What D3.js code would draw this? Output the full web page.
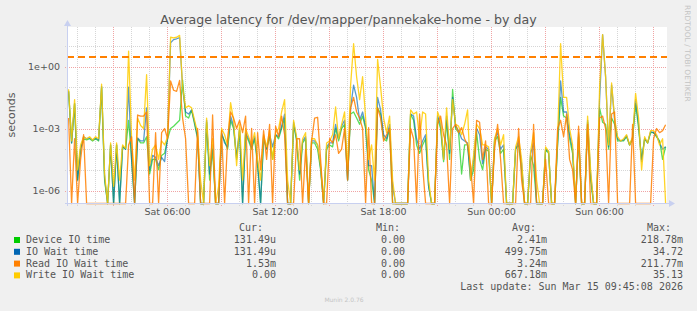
<!DOCTYPE html>
<html>
<head>
<meta charset="utf-8">
<script src="https://cdn.jsdelivr.net/npm/d3@7"></script>
<style>
  body { margin: 0; background: #f0f0f0; }
  svg { display: block; }
  text { font-family: 'DejaVu Sans', sans-serif; fill: #555; }
  .mono { font-family: 'DejaVu Sans Mono', monospace; font-size: 10px; }
</style>
</head>
<body>
<div id="app"></div>
<script>
// samples every 10 minutes, seconds
let deviceVals = [
  0.063, 2e-4, 0.016, 3.2e-6, 1e-4, 3.2e-4, 2.8e-4, 3.2e-4, 2.5e-4, 3.2e-4,
  2.5e-4, 0.1, 3.2e-6, 0, 1.6e-4, 0, 1.6e-4, 0, 1.3e-4, 1e-4,
  2.5e-3, 3.2e-5, 0, 3.2e-4, 2e-4, 2e-4, 4e-4, 6.3e-6, 3.2e-5, 3.2e-5,
  1e-5, 5e-5, 6.3e-5, 3.2e-4, 1e-3, 1.3e-3, 1.8e-3, 2.5e-3, 0.21878, 4e-3,
  3.2e-3, 7.9e-3, 1.6e-3, 3.2e-4, 0, 0, 2e-3, 3.2e-6, 1e-4, 0,
  0, 5e-4, 2.5e-4, 1e-4, 2.5e-3, 1e-3, 3.2e-5, 7.9e-4, 0, 5e-4,
  2.5e-4, 1e-4, 3.2e-4, 1.6e-5, 0, 3.2e-4, 1e-4, 4e-4, 3.2e-5, 5e-4,
  3.2e-4, 1e-3, 3.2e-3, 0, 0, 1.6e-3, 2.5e-4, 3.2e-6, 2e-4, 3.2e-4,
  0, 2e-4, 2e-4, 1e-4, 1e-5, 0, 1e-4, 1.6e-4, 1.3e-4, 1e-3,
  2.5e-4, 1e-3, 1.6e-3, 3.2e-6, 5e-3, 6.3e-3, 3.2e-3, 1.6e-3, 4e-3, 1e-3,
  1e-5, 3.2e-6, 0, 0.01, 5e-3, 3.2e-4, 2.5e-4, 1e-3, 0, 0,
  0, 0, 0, 0, 5e-3, 2.5e-3, 1.6e-4, 6.3e-5, 1.6e-4, 3.2e-4,
  1.6e-6, 0, 0, 3.2e-3, 1e-3, 2.5e-5, 2.5e-3, 3.2e-5, 0.079, 1e-3,
  6.3e-4, 6.3e-6, 1.6e-4, 1.6e-4, 3.2e-6, 1e-5, 6.3e-4, 3.2e-5, 1e-5, 1e-4,
  7.9e-5, 0, 2.5e-4, 4e-4, 6.3e-5, 1e-4, 0, 0, 0, 1e-4,
  1.6e-4, 1e-5, 0, 0, 5e-5, 1.6e-5, 0, 0, 0, 1e-4,
  6.3e-5, 0, 0, 1.6e-4, 0.032, 4e-3, 3.2e-3, 3.2e-4, 6.3e-5, 0,
  4e-4, 0, 0, 2e-3, 3.2e-6, 0, 0, 0.01, 2e-3, 1.6e-3,
  1e-4, 3.2e-3, 1.6e-3, 2.5e-4, 2.5e-4, 2.5e-4, 4e-4, 1.6e-4, 3.2e-4, 0.016,
  1e-3, 3.2e-5, 3.2e-4, 2e-4, 6.3e-4, 6.3e-4, 4e-4, 2.5e-4, 3.2e-5, 1.3149e-4
];
let ioWaitVals = [
  0.063, 2e-4, 0.016, 3.2e-6, 1e-4, 4e-4, 3.2e-4, 3.5e-4, 2.8e-4, 3.5e-4,
  2.8e-4, 0.11, 4e-6, 0, 1.6e-4, 0, 1.6e-4, 0, 1.4e-4, 1e-4,
  0.1, 3.2e-5, 0, 3.5e-4, 2.5e-4, 2.5e-4, 0.01, 1e-5, 5e-5, 4e-5,
  1.6e-5, 4e-5, 2.5e-5, 4e-4, 14, 20, 22, 25, 0.1, 6.3e-3,
  5e-3, 7.9e-3, 2e-3, 4e-4, 0, 0, 2.5e-3, 6.3e-6, 1.6e-4, 0,
  0, 6.3e-4, 2e-4, 1.3e-4, 4e-3, 1.3e-3, 4e-5, 1e-3, 0, 6.3e-4,
  3.2e-4, 1.3e-4, 4e-4, 2.5e-5, 0, 4e-4, 1e-4, 5e-4, 1.3e-4, 5e-4,
  4e-4, 1.3e-3, 5e-3, 0, 0, 2e-3, 3.2e-4, 6.3e-6, 2.5e-4, 4e-4,
  0, 2.5e-4, 2.5e-4, 1.6e-4, 1.3e-5, 0, 1.3e-4, 2e-4, 2e-4, 1.6e-3,
  3.2e-4, 1.3e-3, 2.5e-3, 3.2e-6, 0.01, 0.126, 0.032, 2.5e-3, 6.3e-3, 1.3e-3,
  1.6e-5, 1.6e-5, 0, 0.032, 7.9e-3, 5e-4, 3.2e-4, 1.6e-3, 1.6e-6, 0,
  0, 0, 0, 0, 5e-3, 4e-3, 3.2e-4, 1e-4, 2.5e-4, 5e-4,
  1.6e-6, 0, 0, 4e-3, 1.6e-3, 3.2e-5, 4e-3, 6.3e-5, 0.032, 1.3e-3,
  7.9e-4, 3.2e-4, 2.5e-4, 2e-4, 3.2e-6, 3.2e-5, 1e-3, 5e-4, 2e-5, 1.3e-4,
  1e-4, 0, 3.2e-4, 6.3e-4, 1e-4, 1.6e-4, 0, 0, 0, 1e-4,
  2.5e-4, 2e-5, 0, 0, 6.3e-5, 2e-4, 0, 0, 0, 1e-4,
  7.9e-5, 0, 0, 2e-4, 0.2, 6.3e-3, 6.3e-3, 5e-4, 1e-4, 0,
  5e-4, 0, 0, 2.5e-3, 6.3e-6, 0, 0, 0.025, 34.72, 0.32,
  1.3e-4, 0.126, 2.5e-3, 3.2e-4, 2.5e-4, 2.8e-4, 4.5e-4, 1.6e-4, 3.5e-4, 0.025,
  1.6e-3, 2.5e-5, 3.2e-4, 2e-4, 7.1e-4, 6.3e-4, 4.5e-4, 2e-4, 1e-4, 1.3149e-4
];
let readVals = [
  3.2e-3, 0, 3.2e-4, 0, 3.2e-5, 5e-4, 0, 0, 0, 0,
  0, 0, 0, 0, 0, 0, 0, 0, 0, 0,
  1.6e-4, 4e-4, 0, 4.5e-3, 4e-3, 4e-3, 6.3e-3, 0, 0, 6.3e-4,
  0, 6.3e-4, 1e-3, 3.2e-4, 0.2, 0.071, 0.063, 0.21177, 3.2e-3, 3.2e-4,
  0, 0, 0, 1e-3, 0, 0, 0, 0, 4.5e-3, 0,
  0, 7.9e-4, 0, 3.2e-4, 6.3e-3, 3.2e-3, 1e-3, 2.5e-3, 6.3e-4, 4e-3,
  0, 1e-3, 0, 6.3e-4, 1e-5, 7.9e-4, 3.2e-5, 1.6e-3, 0, 1.3e-3,
  4e-4, 4e-3, 5e-4, 0, 0, 0, 3.2e-4, 3.2e-4, 0, 1e-4,
  0, 2.5e-4, 3.2e-3, 3.5e-3, 3.2e-5, 0, 0, 3.2e-4, 2e-4, 5e-4,
  6.3e-5, 1e-4, 1e-3, 3.2e-6, 0.01, 0.032, 6.3e-3, 3.2e-3, 1e-3, 0,
  1.1e-3, 0, 0, 0.01, 3.2e-3, 2.5e-4, 5e-4, 1e-3, 0, 0,
  0, 0, 0, 0, 1e-3, 3.2e-4, 0, 5e-3, 1.6e-5, 0,
  0, 0, 0, 1.6e-3, 4e-3, 5e-4, 1.6e-4, 0, 1e-3, 1.6e-3,
  6.3e-4, 1.1e-3, 3.2e-4, 1.6e-4, 1.6e-5, 0, 2.5e-3, 2e-3, 3.2e-5, 2.5e-4,
  0, 0, 1e-4, 1.6e-3, 3.2e-5, 0, 0, 0, 0, 0,
  1e-3, 3.2e-6, 0, 0, 0, 1.6e-3, 0, 0, 0, 3.2e-5,
  0, 0, 0, 1e-3, 2.5e-3, 4e-4, 5e-3, 3.2e-5, 1e-5, 0,
  1.3e-3, 0, 0, 1.6e-3, 0, 0, 0, 3.2e-3, 4e-3, 1e-3,
  0, 5e-3, 6.3e-3, 0, 0, 0, 0, 0, 1.6e-3, 0,
  0, 0, 0, 0, 0, 3.2e-4, 1e-3, 6.3e-4, 7.9e-4, 1.53e-3
];
let writeVals = [
  0.079, 2.5e-4, 0.025, 1e-5, 1.6e-4, 4e-4, 3.2e-4, 4e-4, 2.8e-4, 4e-4,
  3.2e-4, 0.14, 6.3e-6, 0, 2e-4, 1.6e-6, 2e-4, 3.2e-6, 1.6e-4, 1.1e-4,
  5.6, 3.2e-4, 3.2e-6, 3.2e-3, 1.4e-3, 1e-3, 0.4, 1.6e-5, 1e-4, 1.6e-4,
  3.2e-5, 2.5e-4, 1.6e-4, 4e-4, 26, 24, 26, 32, 0.1, 0.01,
  0.0126, 0.01, 2.5e-3, 6.3e-4, 3.2e-6, 0, 3.2e-3, 1.6e-5, 3.2e-4, 0,
  1.6e-6, 1e-3, 5e-4, 1.6e-4, 0.018, 2.5e-3, 1.6e-5, 1.6e-3, 3.2e-6, 1e-3,
  4e-4, 1.6e-4, 6.3e-4, 3.2e-5, 3.2e-6, 5e-4, 1.3e-4, 7.9e-4, 3.2e-5, 6.3e-4,
  1e-3, 6.3e-3, 0.025, 3.2e-6, 0, 2.5e-3, 4e-4, 1e-5, 3.2e-4, 6.3e-4,
  0, 3.2e-4, 3.2e-4, 1.6e-4, 1.6e-5, 0, 2e-4, 2.5e-4, 5e-4, 0.011,
  3.2e-4, 1.6e-3, 6.3e-3, 1e-5, 0.126, 12.6, 0.32, 0.025, 0.32, 3.2e-3,
  3.2e-5, 1.6e-4, 3.2e-6, 2.2, 0.1, 3.2e-3, 6.3e-4, 4e-3, 3.2e-6, 0,
  0, 0, 0, 0, 7.9e-3, 5e-3, 6.3e-3, 3.2e-4, 6.3e-3, 5e-3,
  3.2e-6, 0, 0, 6.3e-3, 2.5e-3, 3.2e-5, 0.01, 1e-4, 0.025, 1.6e-3,
  1.3e-3, 5e-4, 1.6e-3, 7.9e-3, 3.2e-6, 5e-5, 1.6e-3, 1e-3, 1.6e-4, 1.6e-4,
  1.3e-4, 0, 3.2e-4, 1e-3, 1.6e-4, 5e-4, 0, 0, 0, 1.3e-4,
  4e-4, 3.2e-5, 0, 0, 7.9e-5, 6.3e-4, 3.2e-6, 0, 0, 1.3e-4,
  7.9e-5, 0, 0, 4e-4, 12.6, 0.032, 0.032, 1e-3, 1.6e-4, 0,
  6.3e-4, 0, 0, 4e-3, 1e-5, 0, 0, 0.1, 35.13, 0.32,
  1.6e-4, 0.16, 3.2e-3, 4e-4, 2.5e-4, 3.2e-4, 5e-4, 1.6e-4, 4e-4, 0.05,
  3.2e-3, 1e-5, 4e-4, 2e-4, 7.9e-4, 7.9e-4, 5e-4, 1.6e-4, 3.2e-4, 0
];
let warnLevel = 3;

let seriesNames = ['Device IO time', 'IO Wait time', 'Read IO Wait time', 'Write IO Wait time'];
let seriesColors = ['#00cc00', '#0066b3', '#ff8000', '#ffcc00'];
let curLabels = ['131.49u', '131.49u', '1.53m', '0.00'];
let minLabels = ['0.00', '0.00', '0.00', '0.00'];
let avgLabels = ['2.41m', '499.75m', '3.24m', '667.18m'];
let maxLabels = ['218.78m', '34.72', '211.77m', '35.13'];
let yTickValues = [1, 1e-3, 1e-6];
let yTickLabels = ['1e+00', '1e-03', '1e-06'];

let width = 697;
let height = 311;
let plotLeft = 67, plotRight = 667, plotTop = 27, plotBottom = 204;

let startTime = new Date(2026, 2, 14, 0, 32);
let times = d3.range(writeVals.length).map(function(i) {
  return d3.timeMinute.offset(startTime, i * 10);
});

let xScale = d3.scaleTime()
               .domain([new Date(2026, 2, 14, 0, 26, 40), new Date(2026, 2, 15, 9, 46, 40)])
               .range([plotLeft, plotRight])

let yScale = d3.scaleLog()
               .domain([2.23e-7, 81.5])
               .range([plotBottom, plotTop])
               .clamp(true)

let svg = d3.select('#app').append('svg')
    .attr('width', width)
    .attr('height', height)
    .style('background', '#f0f0f0')

svg.append('rect')
    .attr('x', plotLeft).attr('y', plotTop)
    .attr('width', plotRight - plotLeft).attr('height', plotBottom - plotTop)
    .style('fill', '#fff')

// grid, minor then major
let hours = d3.timeHour.range(xScale.domain()[0], xScale.domain()[1]);
let decades = d3.range(-6, 2).map(function(k) { return Math.pow(10, k); });

svg.append('g').selectAll('line')
    .data(hours)
    .enter().append('line')
      .attr('x1', function(d) { return Math.round(xScale(d)) + 0.5; })
      .attr('x2', function(d) { return Math.round(xScale(d)) + 0.5; })
      .attr('y1', plotTop)
      .attr('y2', plotBottom + 2)
      .style('stroke', function(d) { return d.getHours() % 3 === 0 ? '#f0a4a4' : '#d6d6d6'; })
      .style('stroke-dasharray', '1,1')

svg.append('g').selectAll('line')
    .data(decades)
    .enter().append('line')
      .attr('x1', plotLeft - 2)
      .attr('x2', plotRight)
      .attr('y1', function(d) { return Math.round(yScale(d)) + 0.5; })
      .attr('y2', function(d) { return Math.round(yScale(d)) + 0.5; })
      .style('stroke', function(d) { return Math.round(Math.log10(d)) % 3 === 0 ? '#f0a4a4' : '#d6d6d6'; })
      .style('stroke-dasharray', '1,1')

// axes
svg.append('g')
    .attr('transform', 'translate(0,' + plotBottom + ')')
    .call(d3.axisBottom(xScale)
            .ticks(d3.timeHour.every(6))
            .tickFormat(d3.timeFormat('%a %H:%M'))
            .tickSize(0)
            .tickPadding(4))
    .call(function(g) { g.select('.domain').remove(); })
    .selectAll('text')
      .style('font-family', 'DejaVu Sans')
      .style('font-size', '9.5px')
      .style('fill', '#555')

svg.append('g')
    .attr('transform', 'translate(' + plotLeft + ',0)')
    .call(d3.axisLeft(yScale)
            .tickValues(yTickValues)
            .tickFormat(function(d, i) { return yTickLabels[i]; })
            .tickSize(0)
            .tickPadding(7))
    .call(function(g) { g.select('.domain').remove(); })
    .selectAll('text')
      .style('font-family', 'DejaVu Sans')
      .style('font-size', '9.5px')
      .style('fill', '#555')

// series lines
let line = d3.line()
    .x(function(d, i) { return xScale(times[i]); })
    .y(function(d) { return d > 0 ? yScale(d) : plotBottom - 0.5; })

let series = [deviceVals, ioWaitVals, readVals, writeVals];
let drawOrder = [0, 1, 3, 2];
let lineOpacity = [0.65, 0.65, 0.85, 0.85];

svg.append('g').selectAll('path')
    .data(drawOrder)
    .enter().append('path')
      .attr('d', function(k) { return line(series[k]); })
      .style('fill', 'none')
      .style('stroke', function(k) { return seriesColors[k]; })
      .style('stroke-width', 1.3)
      .style('stroke-linejoin', 'round')
      .style('stroke-opacity', function(k) { return lineOpacity[k]; })

svg.append('line')
    .attr('x1', plotLeft).attr('x2', plotRight)
    .attr('y1', Math.round(yScale(warnLevel)))
    .attr('y2', Math.round(yScale(warnLevel)))
    .style('stroke', '#ff8000')
    .style('stroke-width', 2)
    .style('stroke-dasharray', '7,4')

// axis lines with arrows
let axisColor = '#c8d0f0';
svg.append('line')
    .attr('x1', plotLeft + 0.5).attr('x2', plotLeft + 0.5)
    .attr('y1', plotBottom + 2).attr('y2', 22)
    .style('stroke', axisColor)
svg.append('line')
    .attr('x1', plotLeft - 2).attr('x2', 670)
    .attr('y1', plotBottom - 0.5).attr('y2', plotBottom - 0.5)
    .style('stroke', axisColor)
svg.append('path')
    .attr('d', 'M64,26L71,26L67.5,20Z')
    .style('fill', axisColor)
svg.append('path')
    .attr('d', 'M669,200L669,207L675,203.5Z')
    .style('fill', axisColor)

// texts
svg.append('text')
    .attr('x', 348.5).attr('y', 24)
    .attr('text-anchor', 'middle')
    .style('font-size', '12.6px')
    .text('Average latency for /dev/mapper/pannekake-home - by day')

svg.append('text')
    .attr('transform', 'translate(15,115) rotate(-90)')
    .attr('text-anchor', 'middle')
    .style('font-size', '11px')
    .text('seconds')

svg.append('text')
    .attr('transform', 'translate(685,5) rotate(90)')
    .style('font-size', '7.5px')
    .style('fill', '#c4c4c4')
    .text('RRDTOOL / TOBI OETIKER')

// legend
let legendTop = 243, legendStep = 11.8;
let headers = [['Cur:', 239], ['Min:', 376], ['Avg:', 512], ['Max:', 647]];
svg.append('g').selectAll('text')
    .data(headers)
    .enter().append('text')
      .attr('class', 'mono')
      .attr('x', function(d) { return d[1]; })
      .attr('y', 231)
      .text(function(d) { return d[0]; })

let rows = svg.append('g').selectAll('g')
    .data(seriesNames)
    .enter().append('g')
      .attr('transform', function(d, i) { return 'translate(0,' + (legendTop + i * legendStep) + ')'; })

rows.append('rect')
    .attr('x', 14).attr('y', -6)
    .attr('width', 6).attr('height', 6)
    .style('fill', function(d, i) { return seriesColors[i]; })

rows.append('text')
    .attr('class', 'mono')
    .attr('x', 26)
    .text(function(d) { return d; })

let columns = [[curLabels, 276], [minLabels, 405], [avgLabels, 547], [maxLabels, 683]];
columns.forEach(function(c) {
  rows.append('text')
      .attr('class', 'mono')
      .attr('x', c[1])
      .attr('text-anchor', 'end')
      .text(function(d, i) { return c[0][i]; })
})

svg.append('text')
    .attr('class', 'mono')
    .attr('x', 683).attr('y', 290)
    .attr('text-anchor', 'end')
    .text('Last update: Sun Mar 15 09:45:08 2026')

svg.append('text')
    .attr('x', 344).attr('y', 302)
    .attr('text-anchor', 'middle')
    .style('font-size', '6px')
    .style('fill', '#c4c4c4')
    .text('Munin 2.0.76')
</script>
</body>
</html>
